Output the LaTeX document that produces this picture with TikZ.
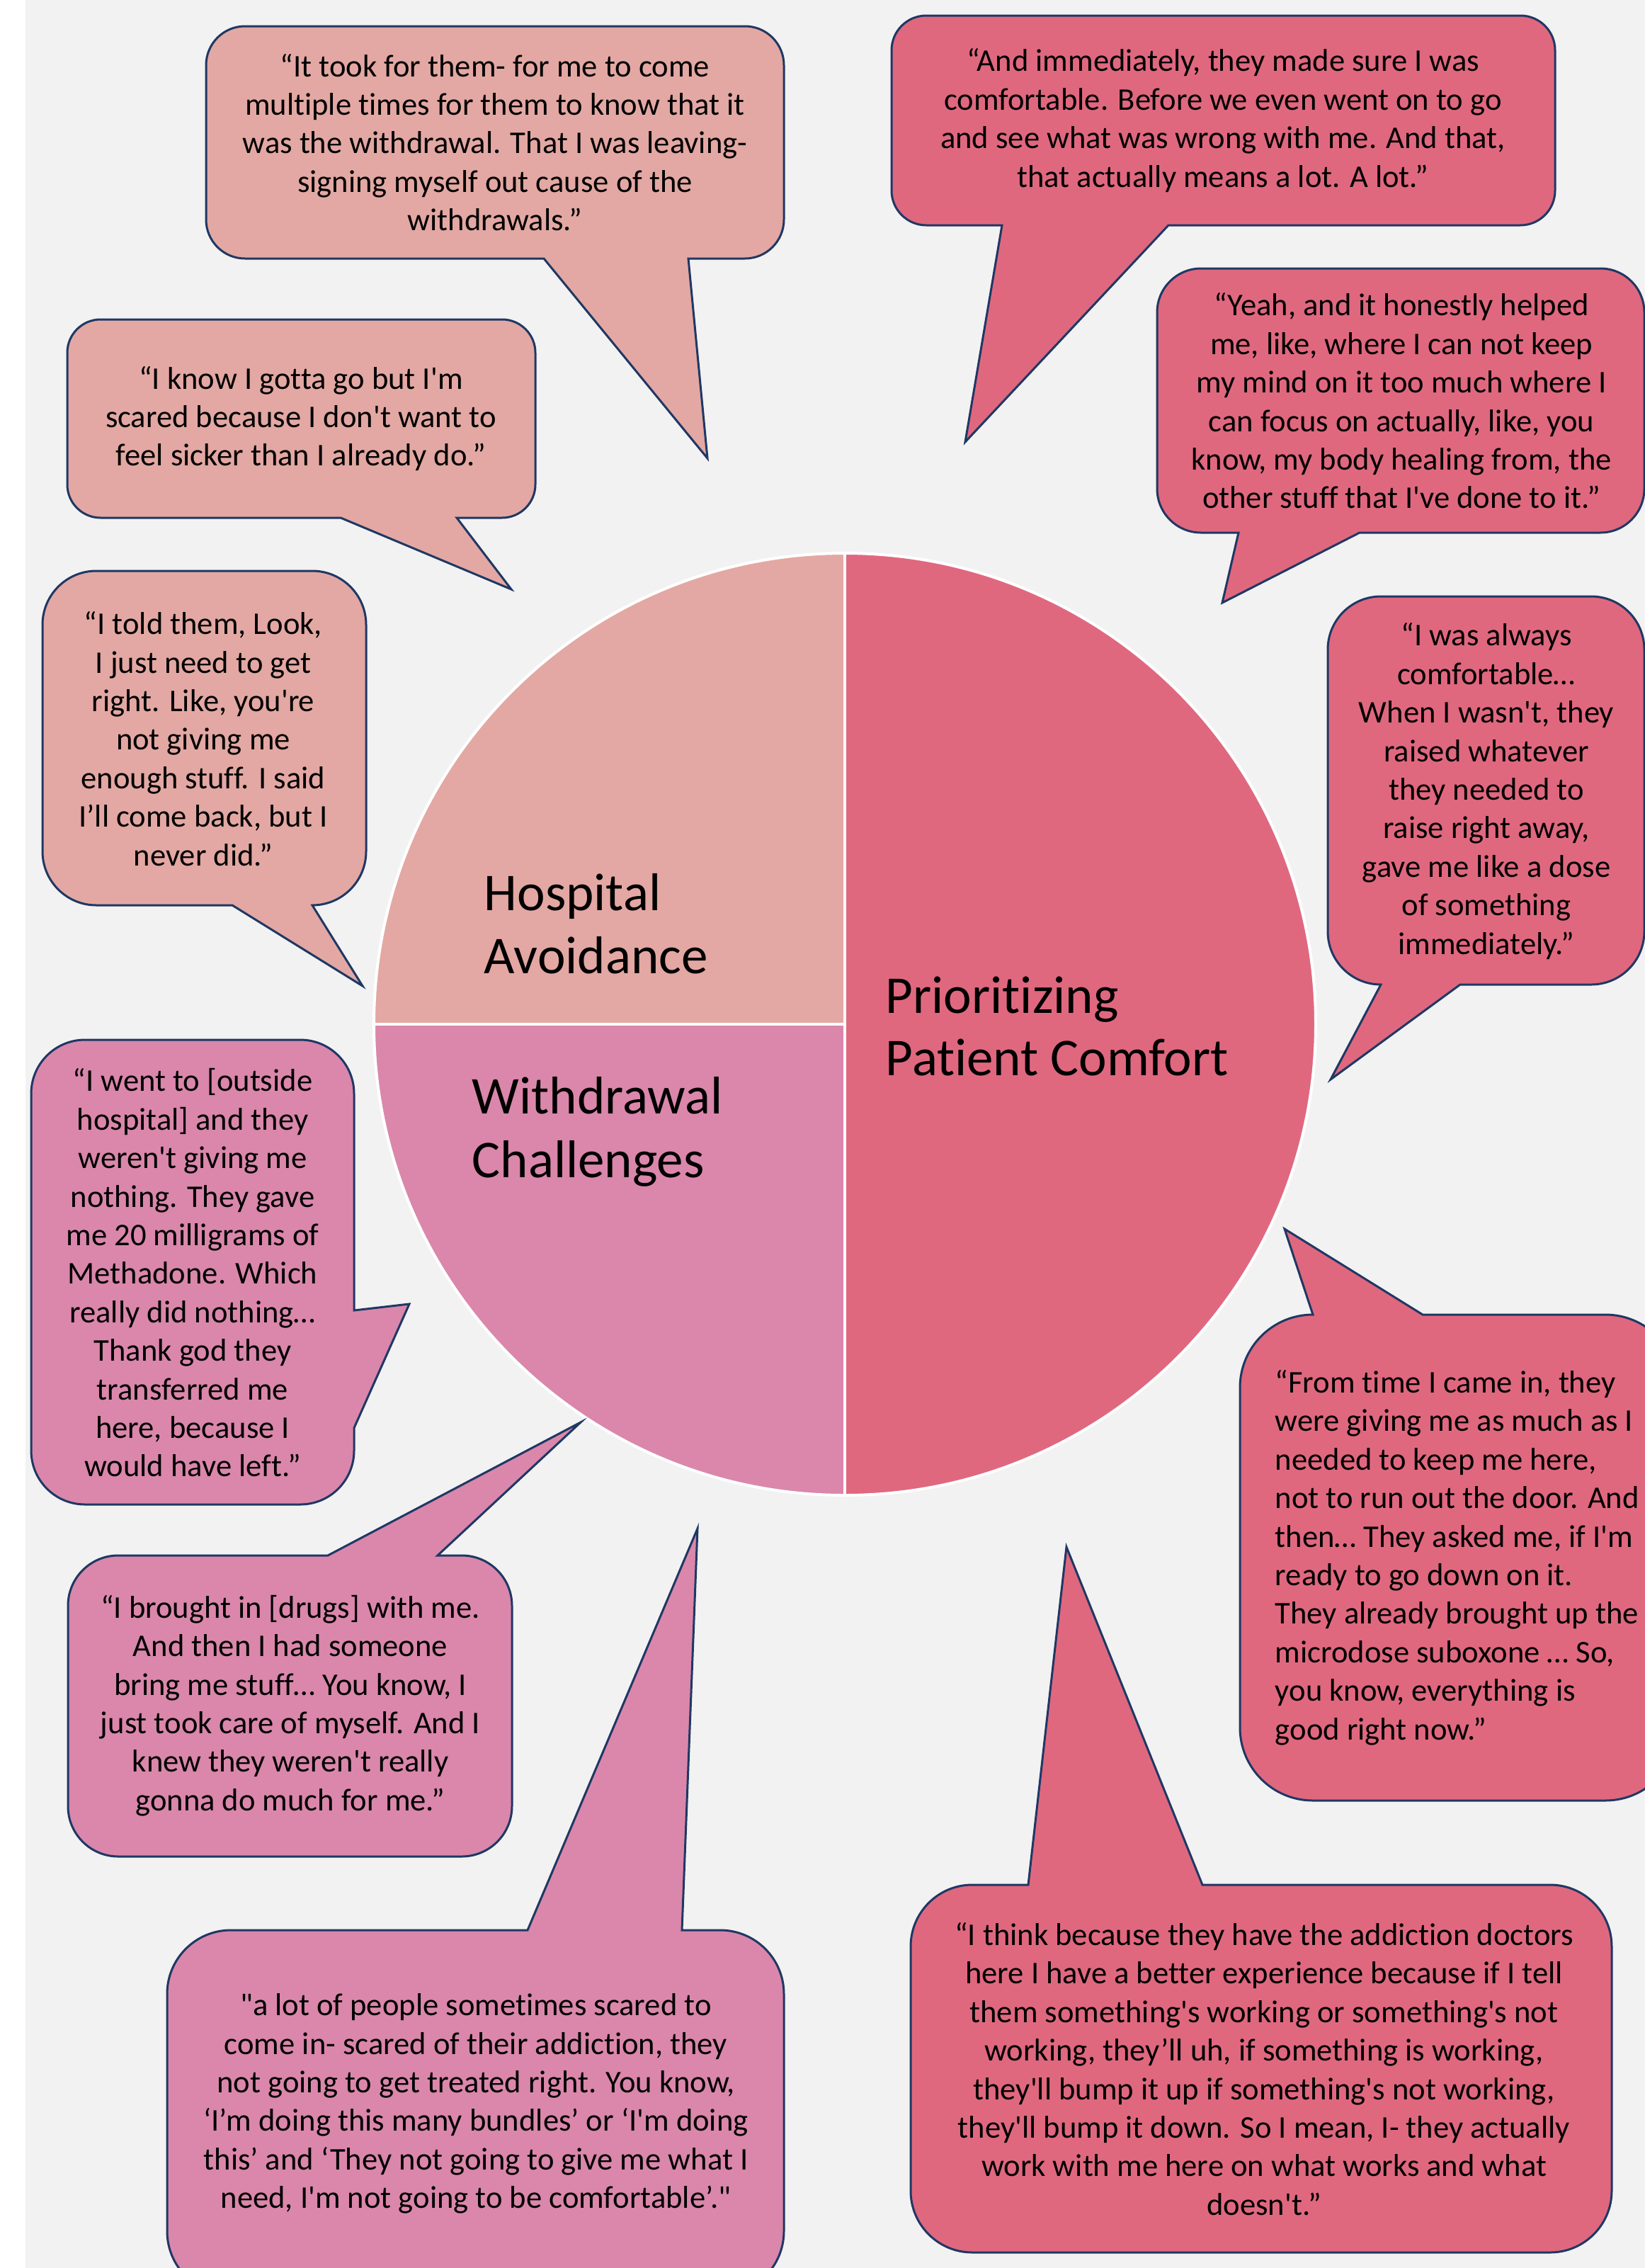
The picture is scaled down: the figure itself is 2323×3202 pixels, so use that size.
\documentclass[tikz,border=0pt]{standalone}
\usepackage{fontspec}
\setmainfont{Carlito}[Ligatures=TeXOff,RawFeature={-liga;-clig;-calt;-dlig}]
\definecolor{bgc}{HTML}{F2F2F2}
\definecolor{hospc}{HTML}{E3A8A3}
\definecolor{withc}{HTML}{DA87AB}
\definecolor{prioc}{HTML}{DF687F}
\definecolor{edgec}{HTML}{1F3864}
\newcommand\kq{0.4477}
\def\cbparse#1/#2/#3/#4/#5\relax{\def\bxL{#1}\def\bxT{#2}\def\bxR{#3}\def\bxB{#4}\def\bxr{#5}}
% tail on bottom edge
\newcommand\calloutB[5]{%
\cbparse#2\relax
\filldraw[callout, fill=#1] ({\bxL+\bxr},\bxT) -- ({\bxR-\bxr},\bxT)
 .. controls ({\bxR-\kq*\bxr},\bxT) and (\bxR,{\bxT+\kq*\bxr}) .. (\bxR,{\bxT+\bxr})
 -- (\bxR,{\bxB-\bxr})
 .. controls (\bxR,{\bxB-\kq*\bxr}) and ({\bxR-\kq*\bxr},\bxB) .. ({\bxR-\bxr},\bxB)
 -- (#4,\bxB) -- (#5) -- (#3,\bxB) -- ({\bxL+\bxr},\bxB)
 .. controls ({\bxL+\kq*\bxr},\bxB) and (\bxL,{\bxB-\kq*\bxr}) .. (\bxL,{\bxB-\bxr})
 -- (\bxL,{\bxT+\bxr})
 .. controls (\bxL,{\bxT+\kq*\bxr}) and ({\bxL+\kq*\bxr},\bxT) .. ({\bxL+\bxr},\bxT) -- cycle;}
% tail on top edge
\newcommand\calloutT[5]{%
\cbparse#2\relax
\filldraw[callout, fill=#1] ({\bxL+\bxr},\bxT) -- (#3,\bxT) -- (#5) -- (#4,\bxT) -- ({\bxR-\bxr},\bxT)
 .. controls ({\bxR-\kq*\bxr},\bxT) and (\bxR,{\bxT+\kq*\bxr}) .. (\bxR,{\bxT+\bxr})
 -- (\bxR,{\bxB-\bxr})
 .. controls (\bxR,{\bxB-\kq*\bxr}) and ({\bxR-\kq*\bxr},\bxB) .. ({\bxR-\bxr},\bxB)
 -- ({\bxL+\bxr},\bxB)
 .. controls ({\bxL+\kq*\bxr},\bxB) and (\bxL,{\bxB-\kq*\bxr}) .. (\bxL,{\bxB-\bxr})
 -- (\bxL,{\bxT+\bxr})
 .. controls (\bxL,{\bxT+\kq*\bxr}) and ({\bxL+\kq*\bxr},\bxT) .. ({\bxL+\bxr},\bxT) -- cycle;}
% tail on right edge
\newcommand\calloutR[5]{%
\cbparse#2\relax
\filldraw[callout, fill=#1] ({\bxL+\bxr},\bxT) -- ({\bxR-\bxr},\bxT)
 .. controls ({\bxR-\kq*\bxr},\bxT) and (\bxR,{\bxT+\kq*\bxr}) .. (\bxR,{\bxT+\bxr})
 -- (\bxR,#3) -- (#5) -- (\bxR,#4) -- (\bxR,{\bxB-\bxr})
 .. controls (\bxR,{\bxB-\kq*\bxr}) and ({\bxR-\kq*\bxr},\bxB) .. ({\bxR-\bxr},\bxB)
 -- ({\bxL+\bxr},\bxB)
 .. controls ({\bxL+\kq*\bxr},\bxB) and (\bxL,{\bxB-\kq*\bxr}) .. (\bxL,{\bxB-\bxr})
 -- (\bxL,{\bxT+\bxr})
 .. controls (\bxL,{\bxT+\kq*\bxr}) and ({\bxL+\kq*\bxr},\bxT) .. ({\bxL+\bxr},\bxT) -- cycle;}
\tikzset{
  callout/.style={draw=edgec, line width=0.75pt, line join=miter},
  qt/.style={align=center, inner sep=0pt, font=\fontsize{11.15}{13.6}\selectfont},
  lbl/.style={inner sep=0pt, anchor=base west, font=\fontsize{18.75}{22.25}\selectfont},
  divider/.style={draw=white, line width=1pt}
}
\begin{document}
\begin{tikzpicture}[x=0.25pt, y=-0.25pt]
\useasboundingbox (0,0) rectangle (2323,3202);
\clip (0,0) rectangle (2323,3202);
\fill[white] (0,0) rectangle (2323,3202);
\fill[bgc] (36,0) rectangle (2323,3202);

% pie
\coordinate (ctr) at (1193,1446);
\begin{scope}
\clip (ctr) circle[radius=166.25pt];
\fill[hospc] (500,700) rectangle (ctr);
\fill[withc] (500,2200) rectangle (ctr);
\fill[prioc] (1193,700) rectangle (1900,2200);
\end{scope}
\draw[divider] (ctr) circle[radius=166.25pt];
\draw[divider] (1193,781) -- (1193,2111);
\draw[divider] (528,1446) -- (ctr);

\node[lbl] (lh1) at (683,1285) {Hospital};
\node[lbl] (lh2) at (683,1374) {Avoidance};
\node[lbl] (lw1) at (666,1572) {Withdrawal};
\node[lbl] (lw2) at (666,1662) {Challenges};
\node[lbl] (lp1) at (1250,1430) {Prioritizing};
\node[lbl] (lp2) at (1250,1518) {Patient Comfort};

% callouts
\calloutB{hospc}{291/37/1107/365/55}{768}{972}{999,647}
\calloutB{hospc}{95/451/756/731/47}{481}{645}{722,832}
\calloutB{hospc}{60/806/517/1278/76}{328}{441}{512,1392}
\calloutR{withc}{44/1468/500/2124/76}{1850}{2016}{578,1841}
\calloutT{withc}{96/2196/723/2621/71}{463}{618}{820,2008}
\calloutT{withc}{236/2725/1107/3240/90}{745}{963}{985,2158}
\calloutB{prioc}{1259/22/2196/318/49}{1415}{1650}{1363,624}
\calloutB{prioc}{1634/379/2322/752/62}{1749}{1920}{1726,851}
\calloutB{prioc}{1875/842/2322/1390/75}{1950}{2062}{1879,1524}
\calloutT{prioc}{1751/1856/2370/2542/103}{1854}{2009}{1814,1735}
\calloutT{prioc}{1286/2661/2276/3180/87}{1452}{1698}{1506,2184}

\node[qt] (q1) at (699,201) {“It took for them- for me to come\\multiple times for them to know that it\\was the withdrawal. That I was leaving-\\signing myself out cause of the\\withdrawals.”};
\node[qt] (q2) at (425,591) {“I know I gotta go but I'm\\scared because I don't want to\\feel sicker than I already do.”};
\node[qt] (q3) at (287,1043) {“I told them, Look,\\I just need to get\\right. Like, you're\\not giving me\\enough stuff. I said\\I’ll come back, but I\\never did.”};
\node[qt] (q4) at (272,1797) {“I went to [outside\\hospital] and they\\weren't giving me\\nothing. They gave\\me 20 milligrams of\\Methadone. Which\\really did nothing…\\Thank god they\\transferred me\\here, because I\\would have left.”};
\node[qt] (q5) at (410,2408) {“I brought in [drugs] with me.\\And then I had someone\\bring me stuff… You know, I\\just took care of myself. And I\\knew they weren't really\\gonna do much for me.”};
\node[qt] (q6) at (672,2970) {"a lot of people sometimes scared to\\come in- scared of their addiction, they\\not going to get treated right. You know,\\‘I’m doing this many bundles’ or ‘I'm doing\\this’ and ‘They not going to give me what I\\need, I'm not going to be comfortable’."};
\node[qt] (q7) at (1727,170) {“And immediately, they made sure I was\\comfortable. Before we even went on to go\\and see what was wrong with me. And that,\\that actually means a lot. A lot.”};
\node[qt] (q8) at (1979,566) {“Yeah, and it honestly helped\\me, like, where I can not keep\\my mind on it too much where I\\can focus on actually, like, you\\know, my body healing from, the\\other stuff that I've done to it.”};
\node[qt] (q9) at (2099,1117) {“I was always\\comfortable…\\When I wasn't, they\\raised whatever\\they needed to\\raise right away,\\gave me like a dose\\of something\\immediately.”};
\node[qt, align=left, anchor=west] (q10) at (1800,2199) {“From time I came in, they\\were giving me as much as I\\needed to keep me here,\\not to run out the door. And\\then… They asked me, if I'm\\ready to go down on it.\\They already brought up the\\microdose suboxone … So,\\you know, everything is\\good right now.”};
\node[qt] (q11) at (1785,2921) {“I think because they have the addiction doctors\\here I have a better experience because if I tell\\them something's working or something's not\\working, they’ll uh, if something is working,\\they'll bump it up if something's not working,\\they'll bump it down. So I mean, I- they actually\\work with me here on what works and what\\doesn't.”};
\end{tikzpicture}
\end{document}
